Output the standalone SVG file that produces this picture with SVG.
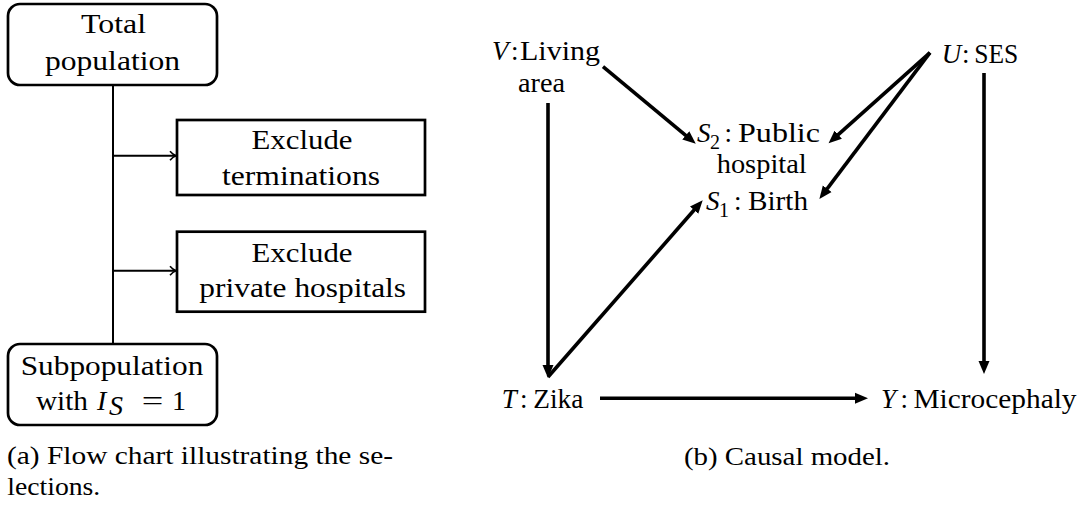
<svg xmlns="http://www.w3.org/2000/svg" width="1083" height="505" viewBox="0 0 1083 505">
<style>
.cm{font-family:"Liberation Serif","Times New Roman",serif;font-size:28px;fill:#000}
.cap{font-family:"Liberation Serif","Times New Roman",serif;font-size:26px;fill:#000}
.sf{font-family:"Liberation Serif","Times New Roman",serif;font-size:27px;fill:#000}
.mi{font-family:"Liberation Serif","Times New Roman",serif;font-style:italic;font-size:27px;fill:#000}
.sub{font-family:"Liberation Serif","Times New Roman",serif;font-size:20px;fill:#000}
.box{fill:#fff;stroke:#000;stroke-width:2.7}
.flow{fill:none;stroke:#000;stroke-width:2}
.dag{fill:none;stroke:#000;stroke-width:3.6}
</style>
<defs>
<marker id="open" markerUnits="userSpaceOnUse" markerWidth="10" markerHeight="12" refX="7" refY="6" orient="auto" viewBox="0 0 10 12">
<path d="M1,1.5 Q4,5 7,6 Q4,7 1,10.5" fill="none" stroke="#000" stroke-width="1.6"/>
</marker>
<marker id="tri" markerUnits="userSpaceOnUse" markerWidth="14" markerHeight="12" refX="3" refY="6" orient="auto" viewBox="0 0 14 12">
<path d="M0,0.5 L13,6 L0,11.5 z" fill="#000"/>
</marker>
</defs>

<!-- (a) flow chart -->
<g id="connectors-a">
<line class="flow" x1="113" y1="85" x2="113" y2="344"/>
<line class="flow" x1="113" y1="155.7" x2="176" y2="155.7" marker-end="url(#open)"/>
<line class="flow" x1="113" y1="270.7" x2="176" y2="270.7" marker-end="url(#open)"/>
</g>
<g id="total">
<rect class="box" x="8" y="4" width="209" height="81" rx="12"/>
<text class="cm" x="113.5" y="33" text-anchor="middle" textLength="65" lengthAdjust="spacingAndGlyphs">Total</text>
<text class="cm" x="112.5" y="70" text-anchor="middle" textLength="135" lengthAdjust="spacingAndGlyphs">population</text>
</g>
<g id="exclude-terminations">
<rect class="box" x="177" y="120" width="248" height="75"/>
<text class="cm" x="302" y="149" text-anchor="middle" textLength="101" lengthAdjust="spacingAndGlyphs">Exclude</text>
<text class="cm" x="301" y="185" text-anchor="middle" textLength="158" lengthAdjust="spacingAndGlyphs">terminations</text>
</g>
<g id="exclude-private">
<rect class="box" x="177" y="231.7" width="248" height="80"/>
<text class="cm" x="302" y="261.7" text-anchor="middle" textLength="101" lengthAdjust="spacingAndGlyphs">Exclude</text>
<text class="cm" x="302.7" y="296.7" text-anchor="middle" textLength="206.7" lengthAdjust="spacingAndGlyphs">private hospitals</text>
</g>
<g id="subpopulation">
<rect class="box" x="8" y="344" width="209" height="81" rx="12"/>
<text class="cm" x="112" y="375" text-anchor="middle" textLength="182.7" lengthAdjust="spacingAndGlyphs">Subpopulation</text>
<text class="cm" x="36" y="410" textLength="52" lengthAdjust="spacingAndGlyphs">with</text>
<text class="cm" x="97" y="410" font-style="italic">I</text>
<text class="cm" x="109" y="414.5" font-style="italic" font-size="20">S</text>
<text class="cm" x="141.7" y="410" textLength="21.6" lengthAdjust="spacingAndGlyphs">=</text>
<text class="cm" x="172" y="410">1</text>
</g>
<g id="caption-a">
<text class="cap" x="7" y="464" textLength="386" lengthAdjust="spacingAndGlyphs">(a) Flow chart illustrating the se-</text>
<text class="cap" x="7.3" y="495" textLength="93" lengthAdjust="spacingAndGlyphs">lections.</text>
</g>

<!-- (b) causal model -->
<g id="connectors-b">
<line class="dag" x1="603" y1="66.7" x2="688.1" y2="137.3" marker-end="url(#tri)"/>
<line class="dag" x1="548" y1="103" x2="548" y2="368" marker-end="url(#tri)"/>
<line class="dag" x1="548" y1="377" x2="696.1" y2="207.8" marker-end="url(#tri)"/>
<line class="dag" x1="600" y1="398.3" x2="858" y2="398.3" marker-end="url(#tri)"/>
<line class="dag" x1="930" y1="52.7" x2="836" y2="136.7" marker-end="url(#tri)"/>
<line class="dag" x1="930" y1="52.7" x2="825.4" y2="191.1" marker-end="url(#tri)"/>
<line class="dag" x1="984" y1="73" x2="984" y2="364" marker-end="url(#tri)"/>
</g>
<g id="node-V">
<text class="mi" x="492" y="60">V</text>
<text class="sf" x="511" y="60">:</text>
<text class="sf" x="520" y="60" textLength="80" lengthAdjust="spacingAndGlyphs">Living</text>
<text class="sf" x="541.5" y="91.7" text-anchor="middle" textLength="47" lengthAdjust="spacingAndGlyphs">area</text>
</g>
<g id="node-S2">
<text class="mi" x="697" y="142">S</text>
<text class="sub" x="710" y="148.5">2</text>
<text class="sf" x="724.5" y="142">:</text>
<text class="sf" x="738" y="142" textLength="82" lengthAdjust="spacingAndGlyphs">Public</text>
<text class="sf" x="761.7" y="173.3" text-anchor="middle" textLength="90" lengthAdjust="spacingAndGlyphs">hospital</text>
</g>
<g id="node-S1">
<text class="mi" x="706" y="210">S</text>
<text class="sub" x="719" y="216.5">1</text>
<text class="sf" x="734" y="210">:</text>
<text class="sf" x="748" y="210" textLength="60" lengthAdjust="spacingAndGlyphs">Birth</text>
</g>
<g id="node-U">
<text class="mi" x="941.7" y="63">U</text>
<text class="sf" x="962" y="63">:</text>
<text class="sf" x="974.3" y="63" textLength="44" lengthAdjust="spacingAndGlyphs">SES</text>
</g>
<g id="node-T">
<text class="mi" x="501.7" y="408.3">T</text>
<text class="sf" x="520" y="408.3">:</text>
<text class="sf" x="533.3" y="408.3" textLength="50" lengthAdjust="spacingAndGlyphs">Zika</text>
</g>
<g id="node-Y">
<text class="mi" x="881" y="408.3">Y</text>
<text class="sf" x="900.5" y="408.3">:</text>
<text class="sf" x="913.5" y="408.3" textLength="163" lengthAdjust="spacingAndGlyphs">Microcephaly</text>
</g>
<g id="caption-b">
<text class="cap" x="787" y="465" text-anchor="middle" textLength="206" lengthAdjust="spacingAndGlyphs">(b) Causal model.</text>
</g>
</svg>
